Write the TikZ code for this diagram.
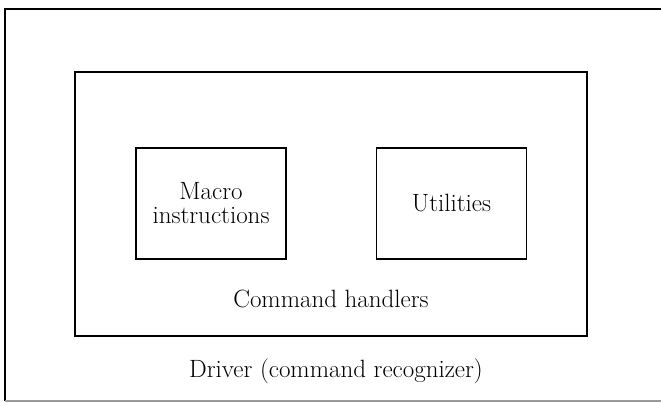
\documentclass[tikz,border=0pt]{standalone}
\usepackage{tikz}

\tikzset{
    module/.style={draw, line width=1.4pt, minimum width=150pt, minimum height=111pt, align=center, font=\fontsize{25}{24}\selectfont},
    caption/.style={anchor=base, font=\fontsize{25}{24}\selectfont}
}

\begin{document}
\begin{tikzpicture}[x=1pt,y=-1pt]
        \useasboundingbox (0,0) rectangle (661,403);
        % outer frame runs off the right edge
        \begin{scope}
            \clip (0,0) rectangle (661,403);
            \draw[line width=1.5pt] (668,9) -- (5,9) -- (5,401);
            \draw[line width=1.3pt, gray!80] (5,401) -- (668,401);
        \end{scope}
        \node[caption] (driver) at (336,377) {Driver (command recognizer)};
        % command handler box
        \draw[line width=1.5pt] (75,72) rectangle (587,336);
        \node[caption] (handlers) at (331,308) {Command handlers};
        \node[module] (macro) at (211,203.5) {Macro\\instructions};
        \node[module] (util) at (451.5,203.5) {Utilities};
    \end{tikzpicture}
\end{document}
